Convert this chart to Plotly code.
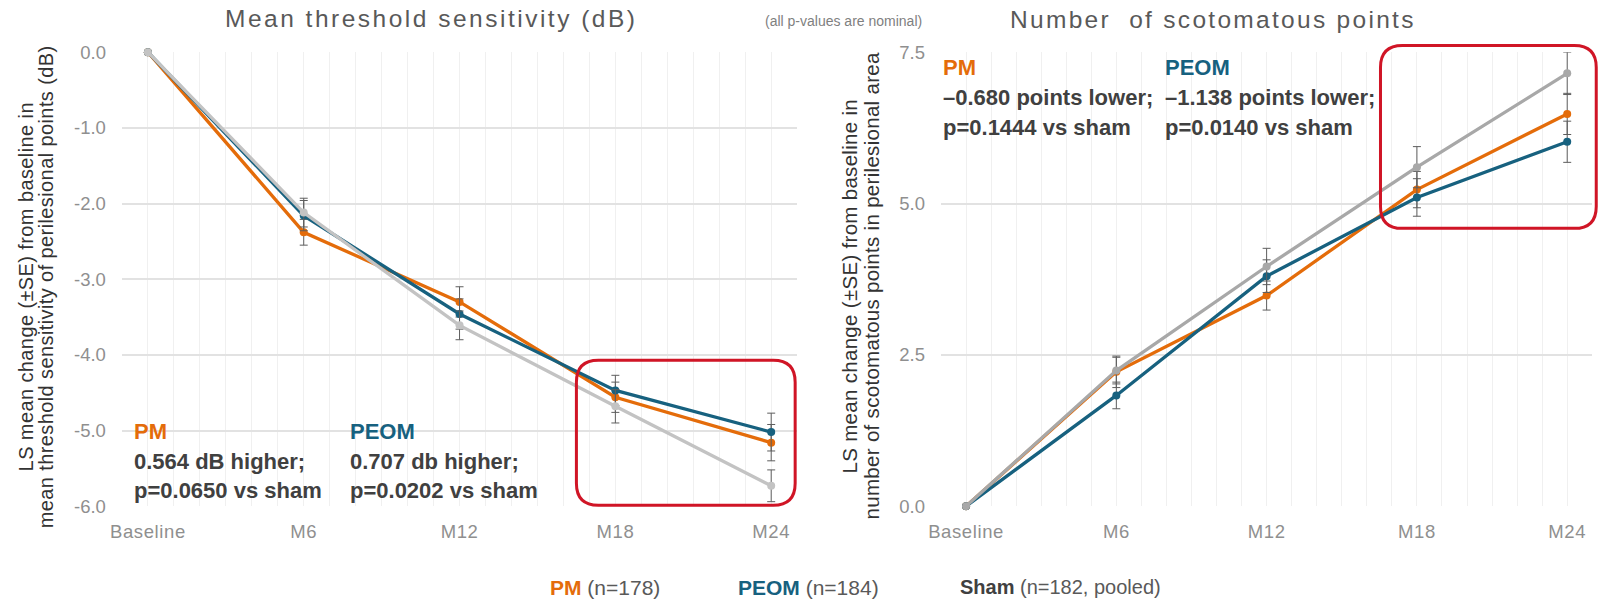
import plotly.graph_objects as go

# Screen-to-figure mapping: the page keeps an 8px body margin and the captured
# page is slightly rescaled, so positions are given in target-screen pixels
# and converted here.
SX, SY, OFF = 0.993, 0.969, 8
W, H = 1598, 602

# ---------------- data ----------------
visits = ["Baseline", "M6", "M12", "M18", "M24"]

# Mean threshold sensitivity (dB)
sens_pm = [0.0, -2.38, -3.30, -4.56, -5.16]
sens_pm_se = [0.0, 0.17, 0.20, 0.20, 0.24]
sens_peom = [0.0, -2.16, -3.46, -4.47, -5.02]
sens_peom_se = [0.0, 0.20, 0.20, 0.20, 0.25]
sens_sham = [0.0, -2.12, -3.61, -4.68, -5.73]
sens_sham_se = [0.0, 0.19, 0.19, 0.22, 0.21]
sens_ticks = [0.0, -1.0, -2.0, -3.0, -4.0, -5.0, -6.0]

# Number of scotomatous points
scot_pm = [0.0, 2.22, 3.48, 5.23, 6.48]
scot_pm_se = [0.0, 0.26, 0.24, 0.30, 0.34]
scot_peom = [0.0, 1.83, 3.80, 5.10, 6.02]
scot_peom_se = [0.0, 0.22, 0.27, 0.31, 0.34]
scot_sham = [0.0, 2.24, 3.96, 5.60, 7.15]
scot_sham_se = [0.0, 0.22, 0.30, 0.34, 0.35]
scot_ticks = [0.0, 2.5, 5.0, 7.5]

ORANGE = "#E46C0A"
TEAL = "#17617F"
GRAY_L = "#C3C3C3"
GRAY_R = "#A8A8A8"
ERR = "#5E5E5E"
TXT = "#404040"
TICK = "#8F8F8F"
RED = "#D01526"
FONT = "Liberation Sans, Arial, sans-serif"

def px(X):
    X = X - 4
    return (X / SX - OFF) / W

def py(Y):
    Y = Y - 2.8 + 0.0035 * Y
    return 1 - (Y / SY - OFF) / H

def spaced(s, ls):
    return f"<span style='letter-spacing:{ls}px'>{s}</span>"

xpos = list(range(len(visits)))

fig = go.Figure()

def add_series(x_ax, y_ax, y, se, color, name):
    fig.add_trace(go.Scatter(
        x=xpos, y=y, mode="lines+markers", name=name,
        xaxis=x_ax, yaxis=y_ax,
        line=dict(color=color, width=3.3),
        marker=dict(color=color, size=8),
        error_y=dict(type="data", array=se, visible=True, color=ERR, thickness=1, width=4),
        cliponaxis=False, showlegend=False,
    ))

add_series("x", "y", sens_pm, sens_pm_se, ORANGE, "PM")
add_series("x", "y", sens_peom, sens_peom_se, TEAL, "PEOM")
add_series("x", "y", sens_sham, sens_sham_se, GRAY_L, "Sham")
add_series("x2", "y2", scot_pm, scot_pm_se, ORANGE, "PM")
add_series("x2", "y2", scot_peom, scot_peom_se, TEAL, "PEOM")
add_series("x2", "y2", scot_sham, scot_sham_se, GRAY_R, "Sham")

ydom = [py(506), py(51.7)]
tickfont = dict(family=FONT, size=18.5, color=TICK)
xcommon = dict(
    range=[-1/6, 4 + 1/6], tickvals=xpos,
    ticktext=[spaced(v, 0.6) for v in visits],
    showgrid=True, gridcolor="#F0F0F0", gridwidth=1,
    minor=dict(dtick=1/6, tick0=0, showgrid=True, gridcolor="#F0F0F0", gridwidth=1),
    zeroline=False, showline=False, ticks="",
    tickfont=tickfont, ticklabelstandoff=12, fixedrange=True,
)
ycommon = dict(
    showgrid=True, gridcolor="#E2E2E2", gridwidth=1.5,
    zeroline=False, showline=False, ticks="",
    tickfont=tickfont, ticklabelstandoff=15, fixedrange=True,
)

fig.update_layout(
    width=W, height=H,
    margin=dict(l=0, r=0, t=0, b=0),
    paper_bgcolor="white", plot_bgcolor="white",
    xaxis=dict(domain=[px(121), px(797)], anchor="y", **xcommon),
    yaxis=dict(domain=ydom, anchor="x", range=[-6, 0],
               tickvals=sens_ticks, ticktext=[f"{v:.1f}" for v in sens_ticks], **ycommon),
    xaxis2=dict(domain=[px(941), px(1593)], anchor="y2", **xcommon),
    yaxis2=dict(domain=ydom, anchor="x2", range=[0, 7.5],
                tickvals=scot_ticks, ticktext=[f"{v:.1f}" for v in scot_ticks], **ycommon),
)

def rounded_rect(x0, y0, x1, y1, r):
    pts = [
        f"M {px(x0 + r)},{py(y0)}",
        f"L {px(x1 - r)},{py(y0)}",
        f"Q {px(x1)},{py(y0)} {px(x1)},{py(y0 + r)}",
        f"L {px(x1)},{py(y1 - r)}",
        f"Q {px(x1)},{py(y1)} {px(x1 - r)},{py(y1)}",
        f"L {px(x0 + r)},{py(y1)}",
        f"Q {px(x0)},{py(y1)} {px(x0)},{py(y1 - r)}",
        f"L {px(x0)},{py(y0 + r)}",
        f"Q {px(x0)},{py(y0)} {px(x0 + r)},{py(y0)}",
        "Z",
    ]
    return " ".join(pts)

fig.add_shape(type="path", xref="paper", yref="paper",
              path=rounded_rect(576, 360, 795, 505, 22), line=dict(color=RED, width=3))
fig.add_shape(type="path", xref="paper", yref="paper",
              path=rounded_rect(1381, 45, 1597, 228, 22), line=dict(color=RED, width=3))

ann = []

def text(x, y, s, size=22, color=TXT, xanchor="left", yanchor="middle", angle=0, family=FONT):
    ann.append(dict(x=px(x), y=min(py(y), 1.0), xref="paper", yref="paper", text=s, showarrow=False,
                    xanchor=xanchor, yanchor=yanchor, textangle=angle,
                    font=dict(family=family, size=size, color=color)))

# titles
text(430, 18, spaced("Mean threshold sensitivity (dB)", 2.5), size=24.5, color="#595959", xanchor="center")
text(1213, 19, spaced("Number&nbsp; of scotomatous points", 2.3), size=24.5, color="#595959", xanchor="center")
text(843, 8, "(all p-values are nominal)", size=14, color="#7F7F7F", xanchor="center", yanchor="top")

# y axis titles (two lines each)
text(25, 287, spaced("LS mean change (±SE) from baseline in", 0.4), size=20, color="#333333", xanchor="center", angle=-90)
text(45, 287, spaced("mean threshold sensitivity of perilesional points (dB)", 0.4), size=20, color="#333333", xanchor="center", angle=-90)
text(849, 286, spaced("LS mean change (±SE) from baseline in", 0.3), size=20.5, color="#333333", xanchor="center", angle=-90)
text(871, 286, spaced("number of scotomatous points in perilesional area", 0.3), size=20.5, color="#333333", xanchor="center", angle=-90)

# left annotations
text(131, 431, "<b>PM</b>", color=ORANGE)
text(131, 461, "<b>0.564 dB higher;</b>")
text(131, 490, "<b>p=0.0650 vs sham</b>")
text(347, 431, "<b>PEOM</b>", color=TEAL)
text(347, 461, "<b>0.707 db higher;</b>")
text(347, 490, "<b>p=0.0202 vs sham</b>")

# right annotations
text(941, 67, "<b>PM</b>", color=ORANGE)
text(941, 97, "<b>–0.680 points lower;</b>")
text(941, 127, "<b>p=0.1444 vs sham</b>")
text(1163, 67, "<b>PEOM</b>", color=TEAL)
text(1163, 97, "<b>–1.138 points lower;</b>")
text(1163, 127, "<b>p=0.0140 vs sham</b>")

# bottom legend
text(548, 587, f"<b><span style='color:{ORANGE}'>PM</span></b> (n=178)", size=21, color="#595959")
text(736, 587, f"<b><span style='color:{TEAL}'>PEOM</span></b> (n=184)", size=21, color="#595959")
text(958, 587, f"<b><span style='color:#404040'>Sham</span></b> (n=182, pooled)", size=20, color="#595959")

fig.update_layout(annotations=ann)

fig.write_html("out.html")
